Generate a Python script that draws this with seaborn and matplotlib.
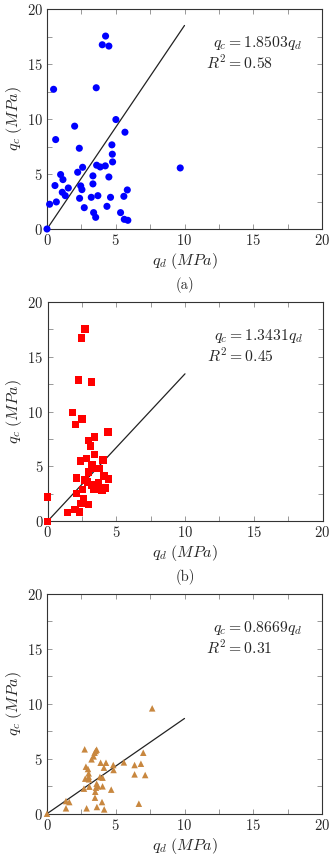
import numpy as np
import pandas as pd
import seaborn as sns
import matplotlib
matplotlib.use('Agg')
import matplotlib.pyplot as plt
from matplotlib.ticker import MultipleLocator

# panel (a)
qd_a = [0.0, 0.19, 0.48, 0.63, 0.58, 0.68, 0.99, 1.16, 1.11, 1.33, 1.55, 2.01, 2.23, 2.35,
        2.45, 2.54, 2.59, 2.37, 2.71, 3.22, 3.34, 3.34, 3.39, 3.54, 3.61, 3.70, 3.58, 3.87,
        4.02, 4.26, 4.50, 4.24, 4.36, 4.50, 4.62, 4.72, 4.75, 4.77, 5.01, 5.35, 5.59, 5.67,
        5.62, 5.84, 5.88, 9.69]
qc_a = [0.0, 2.25, 12.7, 8.13, 3.95, 2.46, 4.95, 4.49, 3.34, 3.03, 3.73, 9.35, 5.16, 7.34,
        3.92, 3.58, 5.61, 2.79, 1.94, 2.88, 4.83, 4.10, 1.49, 1.06, 5.80, 3.03, 12.84, 5.64,
        16.75, 17.54, 16.63, 5.74, 2.06, 4.73, 2.88, 7.65, 6.80, 6.10, 9.95, 1.49, 2.97, 8.80,
        0.88, 3.55, 0.79, 5.55]

# panel (b)
qd_b = [0.0, 0.0, 1.46, 1.82, 2.06, 2.11, 2.11, 2.01, 2.26, 2.31, 2.38, 2.48, 2.50, 2.55,
        2.60, 2.43, 2.72, 2.72, 2.84, 2.89, 2.99, 2.99, 2.99, 3.13, 3.18, 3.18, 3.23, 3.37,
        3.42, 3.42, 3.47, 3.71, 3.76, 3.96, 4.03, 4.10, 4.20, 4.39, 4.44]
qc_b = [0.0, 2.2, 0.79, 9.92, 8.83, 3.95, 2.52, 1.09, 12.87, 0.85, 5.49, 16.69, 9.32, 2.91,
        2.09, 1.64, 17.51, 3.76, 5.74, 3.58, 7.37, 4.49, 1.52, 6.86, 12.69, 3.31, 5.19, 2.94,
        7.68, 6.10, 4.83, 3.52, 4.83, 2.85, 5.58, 4.13, 3.03, 8.13, 3.85]

# panel (c)
qd_c = [0.0, 1.38, 1.38, 1.62, 2.74, 2.69, 2.78, 2.83, 2.88, 2.98, 3.03, 3.03, 3.05, 3.08,
        3.24, 3.39, 3.46, 3.54, 3.61, 3.49, 3.51, 3.56, 3.61, 3.63, 3.70, 3.85, 3.90, 4.00,
        4.04, 4.04, 4.14, 4.16, 4.29, 4.67, 4.82, 4.84, 5.59, 6.37, 6.37, 6.68, 6.83, 7.00,
        7.14, 7.65]
qc_c = [0.0, 1.15, 0.49, 1.06, 5.86, 2.28, 3.19, 4.28, 0.49, 4.07, 3.67, 3.37, 3.13, 2.46,
        4.95, 5.22, 5.55, 5.71, 5.83, 1.46, 2.0, 2.37, 2.73, 0.61, 2.49, 3.34, 4.64, 1.06,
        3.28, 2.49, 4.19, 0.39, 4.64, 2.19, 4.43, 3.98, 4.67, 4.43, 3.58, 0.91, 4.55, 5.55,
        3.52, 9.59]

slopes = [1.8503, 1.3431, 0.8669]
r2 = [0.58, 0.45, 0.31]
fit_x = [0, 10]
captions = ['(a)', '(b)', None]

sns.set_theme(style='ticks')
plt.rcParams['font.family'] = 'serif'
plt.rcParams['font.serif'] = ['cmr10', 'DejaVu Serif']
plt.rcParams['mathtext.fontset'] = 'cm'
plt.rcParams['axes.formatter.use_mathtext'] = True

fig = plt.figure(figsize=(3.35, 8.64), dpi=100)
W, H = 335, 864
boxes = [(47, 9, 275, 220), (47.5, 301.7, 275, 219.6), (47, 594, 275, 219.7)]

panels = [
    (qd_a, qc_a, 'o', '#0000ff', 26),
    (qd_b, qc_b, 's', '#ff0000', 28),
    (qd_c, qc_c, '^', '#c8873f', 22),
]

for i, (qd, qc, mk, col, sz) in enumerate(panels):
    x0, y0, w, h = boxes[i]
    ax = fig.add_axes([x0 / W, (H - y0 - h) / H, w / W, h / H])
    df = pd.DataFrame({'qd': qd, 'qc': qc})
    sns.scatterplot(data=df, x='qd', y='qc', marker=mk, color=col, s=sz,
                    edgecolor='none', ax=ax, zorder=3, clip_on=False)
    fit = pd.DataFrame({'x': fit_x, 'y': [slopes[i] * v for v in fit_x]})
    sns.lineplot(data=fit, x='x', y='y', color='#222222', linewidth=0.9, ax=ax)
    ax.set_xlim(0, 20)
    ax.set_ylim(0, 20)
    ax.xaxis.set_major_locator(MultipleLocator(5))
    ax.yaxis.set_major_locator(MultipleLocator(5))
    ax.xaxis.set_minor_locator(MultipleLocator(2.5))
    ax.yaxis.set_minor_locator(MultipleLocator(2.5))
    ax.tick_params(which='both', direction='in', top=True, right=True,
                   length=3.5, width=0.6, color='#888888', labelsize=10.5, pad=3)
    for sp in ax.spines.values():
        sp.set_color('#333333')
        sp.set_linewidth(0.8)
    ax.set_xlabel(r'$q_d\ (MPa)$', fontsize=11.5, labelpad=2)
    ax.set_ylabel(r'$q_c\ (MPa)$', fontsize=11.5, labelpad=2)
    ax.text(12.1, 16.9, r'$q_c = %.4f q_d$' % slopes[i], fontsize=11.3, va='center', ha='left')
    ax.text(11.6, 15.1, r'$R^2 = %.2f$' % r2[i], fontsize=11.3, va='center', ha='left')
    if captions[i]:
        fig.text(0.5 * (x0 + w / 2) / (W / 2), (H - y0 - h - 56) / H, captions[i],
                 ha='center', va='center', fontsize=10.5)

fig.savefig('out.png', dpi=100)
